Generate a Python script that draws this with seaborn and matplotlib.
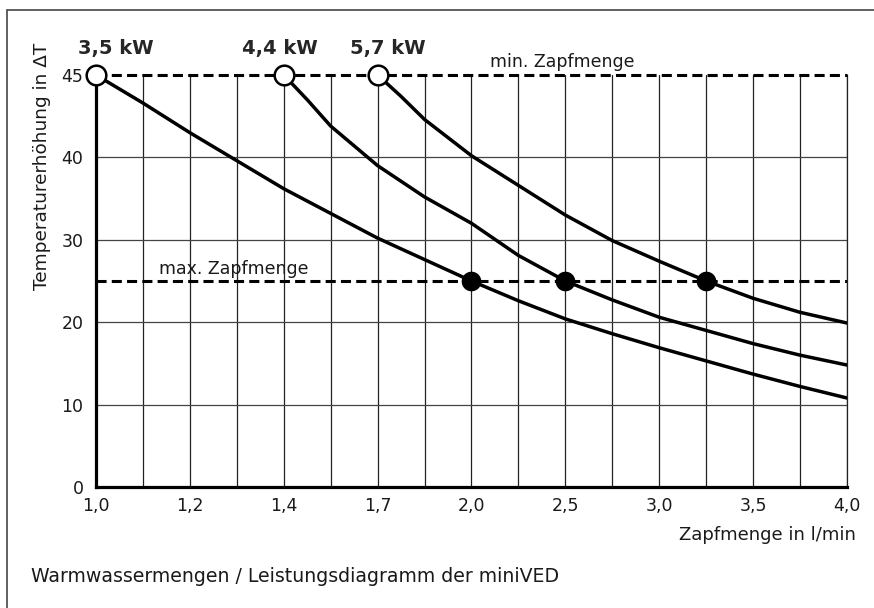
import numpy as np
import pandas as pd
import matplotlib
matplotlib.use("Agg")
import matplotlib.pyplot as plt
from matplotlib.lines import Line2D
import seaborn as sns

# axis tick values (evenly spaced on the chart, not linear in value)
x_ticks = [1.0, 1.2, 1.4, 1.7, 2.0, 2.5, 3.0, 3.5, 4.0]
x_labels = ["1,0", "1,2", "1,4", "1,7", "2,0", "2,5", "3,0", "3,5", "4,0"]
y_ticks = [0, 10, 20, 30, 40, 45]
y_labels = ["0", "10", "20", "30", "40", "45"]

# curves: flow in l/min, temperature rise in K
flow_35 = [1.0, 1.1, 1.2, 1.3, 1.4, 1.55, 1.7, 1.85, 2.0, 2.25, 2.5, 2.75, 3.0, 3.25, 3.5, 3.75, 4.0]
dt_35 = [45, 43.3, 41.5, 39.6, 36.2, 33.2, 30.2, 27.6, 25, 22.6, 20.4, 18.6, 16.9, 15.3, 13.7, 12.2, 10.8]
flow_44 = [1.4, 1.475, 1.55, 1.7, 1.85, 2.0, 2.25, 2.5, 2.75, 3.0, 3.25, 3.5, 3.75, 4.0]
dt_44 = [45, 43.5, 41.9, 39.0, 35.2, 32.0, 28.1, 25, 22.7, 20.6, 19.0, 17.4, 16.0, 14.8]
flow_57 = [1.7, 1.775, 1.85, 2.0, 2.25, 2.5, 2.75, 3.0, 3.25, 3.5, 3.75, 4.0]
dt_57 = [45, 43.7, 42.3, 40.1, 36.6, 33.0, 29.9, 27.4, 25, 22.9, 21.2, 19.9]

powers = ["3,5 kW", "4,4 kW", "5,7 kW"]
start_flow = [1.0, 1.4, 1.7]   # min. Zapfmenge points (open circles)
end_flow = [2.0, 2.5, 3.25]    # max. Zapfmenge points (filled dots)
dt_min_zapf = 45
dt_max_zapf = 25

df = pd.concat([
    pd.DataFrame({"flow": flow_35, "dt": dt_35, "power": powers[0]}),
    pd.DataFrame({"flow": flow_44, "dt": dt_44, "power": powers[1]}),
    pd.DataFrame({"flow": flow_57, "dt": dt_57, "power": powers[2]}),
])

sns.set_style("white")
plt.rcParams["font.family"] = ["DejaVu Sans"]
plt.rcParams["font.size"] = 12

fig = plt.figure(figsize=(8.74, 6.08), dpi=100)
ax = fig.add_axes([96 / 874, 1 - 487 / 608, (847 - 96) / 874, (487 - 75) / 608])

# piecewise-linear scales so the ticks sit evenly spaced
xi = np.arange(len(x_ticks))
yi = np.arange(len(y_ticks))
ax.set_xscale("function", functions=(lambda v: np.interp(v, x_ticks, xi),
                                     lambda p: np.interp(p, xi, x_ticks)))
ax.set_yscale("function", functions=(lambda v: np.interp(v, y_ticks, yi),
                                     lambda p: np.interp(p, yi, y_ticks)))
ax.set_xlim(1.0, 4.0)
ax.set_ylim(0, 45)

# grid
ax.set_xticks(x_ticks)
ax.set_xticklabels(x_labels)
ax.set_xticks([(a + b) / 2 for a, b in zip(x_ticks[:-1], x_ticks[1:])], minor=True)
ax.set_yticks(y_ticks)
ax.set_yticklabels(y_labels)
ax.yaxis.remove_overlapping_locs = False
ax.set_yticks([10, 20, 30, 40], minor=True)
ax.grid(False)
ax.grid(which="both", axis="x", color="#222222", lw=0.9)
ax.grid(which="minor", axis="y", color="#444444", lw=0.9)
ax.tick_params(which="both", length=0, labelsize=12.5, colors="#1a1a1a")
ax.tick_params(axis="x", pad=7)
ax.tick_params(axis="y", pad=9)

ax.spines["top"].set_visible(False)
ax.spines["right"].set_linewidth(0.9)
ax.spines["right"].set_color("#222222")
for s in ["left", "bottom"]:
    ax.spines[s].set_linewidth(2.3)
    ax.spines[s].set_color("black")
    ax.spines[s].set_zorder(4)

# dashed limit lines
ax.axhline(dt_min_zapf, color="black", lw=2.2, dashes=(3.3, 1.7), zorder=3, clip_on=False)
ax.axhline(dt_max_zapf, color="black", lw=2.2, dashes=(3.3, 1.7), zorder=3)

sns.lineplot(data=df, x="flow", y="dt", hue="power", palette=["black"] * 3,
             lw=2.5, legend=False, sort=False, ax=ax, zorder=5,
             solid_joinstyle="round")

sns.scatterplot(x=start_flow, y=[dt_min_zapf] * 3, s=200, color="white",
                edgecolor="black", linewidth=1.8, ax=ax, zorder=6, clip_on=False)
sns.scatterplot(x=end_flow, y=[dt_max_zapf] * 3, s=200, color="black",
                edgecolor="black", linewidth=0, ax=ax, zorder=6)

label_dx = [14.4, -2.9, 7.6]
for p, fx, dx in zip(powers, start_flow, label_dx):
    ax.annotate(p, xy=(fx, dt_min_zapf), xytext=(dx, 15), textcoords="offset points",
                ha="center", va="baseline", fontsize=14, fontweight="bold",
                annotation_clip=False)

ax.annotate("min. Zapfmenge", xy=(2.1, dt_min_zapf), xytext=(0, 6),
            textcoords="offset points", ha="left", va="baseline", fontsize=12.5,
            color="#1a1a1a", annotation_clip=False)
ax.annotate("max. Zapfmenge", xy=(1.134, dt_max_zapf), xytext=(0, 5),
            textcoords="offset points", ha="left", va="baseline", fontsize=12.5,
            color="#1a1a1a")

ax.set_xlabel("Zapfmenge in l/min", loc="right", fontsize=13, color="#1a1a1a")
ax.xaxis.set_label_coords((856 - 96) / 751, (487 - 526) / 412)
ax.set_ylabel("Temperaturerhöhung in ΔT", loc="top", fontsize=13.3, color="#1a1a1a")
ax.yaxis.set_label_coords((51 - 96) / 751, (487 - 43) / 412)

fig.text(31 / 874, 1 - 577 / 608, "Warmwassermengen / Leistungsdiagramm der miniVED",
         ha="left", va="center", fontsize=13.6, color="#1a1a1a")

# outer frame (only top and left visible)
fig.add_artist(Line2D([7 / 874, 7 / 874], [0, 1 - 10 / 608], transform=fig.transFigure,
                      color="#555555", lw=1.3))
fig.add_artist(Line2D([7 / 874, 1], [1 - 10 / 608, 1 - 10 / 608], transform=fig.transFigure,
                      color="#555555", lw=1.3))

fig.savefig("out.png", dpi=100)
